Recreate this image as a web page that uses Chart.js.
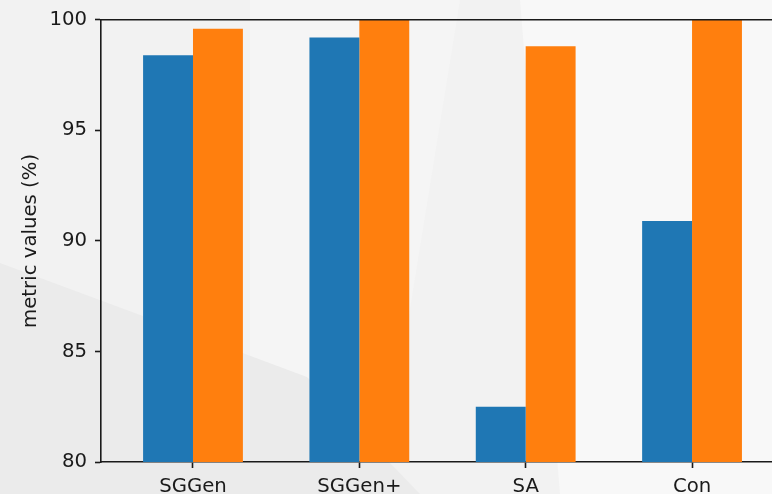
<!DOCTYPE html>
<html>
<head>
<meta charset="utf-8">
<script src="https://cdn.jsdelivr.net/npm/chart.js@4"></script>
<style>
  html, body { margin: 0; padding: 0; overflow: hidden; }
  body { width: 772px; height: 494px; background: #f2f2f2; position: relative; }
  .bg { position: absolute; inset: 0; }
  .bg1 { background: #f8f8f8; clip-path: polygon(520px 0, 772px 0, 772px 494px, 560px 494px); }
  .bg2 { background: #ebebeb; clip-path: polygon(0 263px, 307px 377px, 420px 494px, 0 494px); }
  .bg3 { background: #f5f5f5; clip-path: polygon(250px 0, 460px 0, 380px 494px, 250px 494px); }
  #wrap { position: absolute; left: 0; top: 0; width: 800px; height: 494px; }
</style>
</head>
<body>
<div class="bg bg1"></div>
<div class="bg bg3"></div>
<div class="bg bg2"></div>
<div id="wrap"><canvas id="barChart"></canvas></div>
<script>
const categories = ['SGGen', 'SGGen+', 'SA', 'Con'];
const seriesA = [98.4, 99.2, 82.5, 90.9];
const seriesB = [99.6, 100.0, 98.8, 100.0];
const yTicks = [80, 85, 90, 95, 100];

const FONT = { family: 'DejaVu Sans', size: 19.7 };
const INK = '#1a1a1a';

// matplotlib draws all four spines; only top and left/bottom show in the crop
const frame = {
    id: 'frame',
    afterDraw(chart) {
        const { ctx, chartArea: a } = chart;
        ctx.save();
        ctx.strokeStyle = INK;
        ctx.lineWidth = 1.6;
        ctx.beginPath();
        ctx.moveTo(a.left, a.top);
        ctx.lineTo(a.right, a.top);
        ctx.lineTo(a.right, a.bottom);
        ctx.stroke();
        ctx.restore();
    }
};

const toPoints = (vals) => vals.map((v, i) => ({ x: i, y: v }));

const config = {
    type: 'bar',
    data: {
        datasets: [
            { label: 'a', data: toPoints(seriesA), backgroundColor: '#1f77b4', borderWidth: 0 },
            { label: 'b', data: toPoints(seriesB), backgroundColor: '#ff7f0e', borderWidth: 0 }
        ]
    },
    options: {
        responsive: true,
        maintainAspectRatio: false,
        animation: false,
        layout: { padding: { top: 1 } },
        datasets: { bar: { categoryPercentage: 0.6, barPercentage: 1.0 } },
        plugins: { legend: { display: false }, tooltip: { enabled: false } },
        scales: {
            x: {
                type: 'linear',
                offset: false,
                min: -0.553,
                max: 3.649,
                afterBuildTicks: (axis) => { axis.ticks = categories.map((c, i) => ({ value: i })); },
                afterFit: (axis) => { axis.height = 32; },
                ticks: { font: FONT, color: INK, padding: 7, maxRotation: 0, callback: (v) => categories[v] },
                grid: { offset: false, drawOnChartArea: false, drawTicks: true, tickLength: 6, color: INK, tickWidth: 1.6 },
                border: { display: true, color: INK, width: 1.6 }
            },
            y: {
                min: 80,
                max: 100,
                afterBuildTicks: (axis) => { axis.ticks = yTicks.map(v => ({ value: v })); },
                afterFit: (axis) => { axis.width = 101; },
                ticks: { font: FONT, color: INK, padding: 8 },
                grid: { drawOnChartArea: false, drawTicks: true, tickLength: 6, color: INK, tickWidth: 1.6 },
                border: { display: true, color: INK, width: 1.6 },
                title: { display: true, text: 'metric values (%)', font: FONT, color: INK, padding: { top: 19, bottom: 0 } }
            }
        }
    },
    plugins: [frame]
};

new Chart(document.getElementById('barChart').getContext('2d'), config);
</script>
</body>
</html>
